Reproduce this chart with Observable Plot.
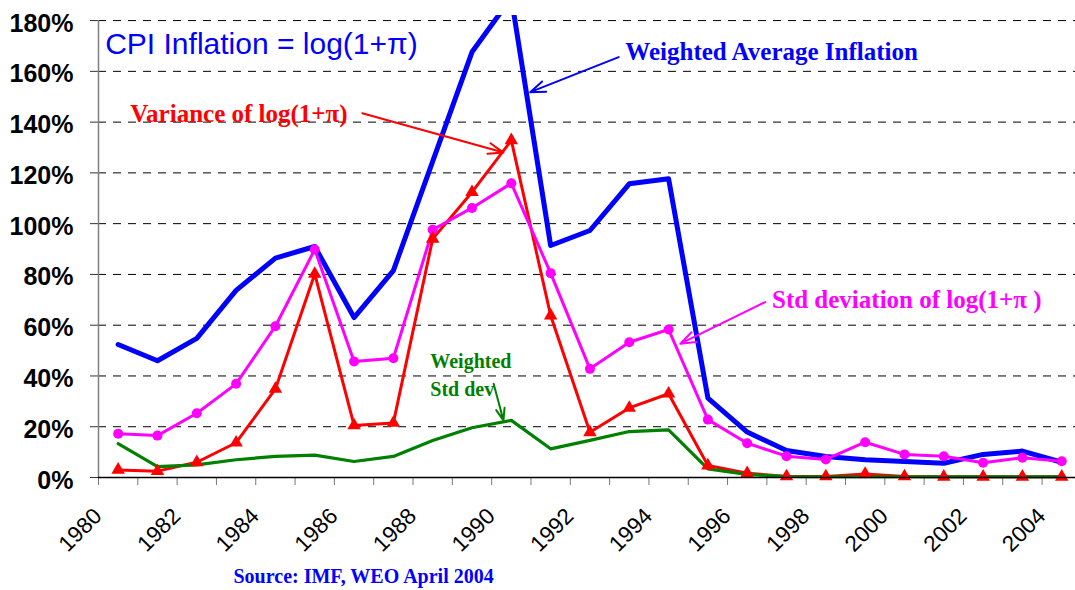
<!DOCTYPE html>
<html><head><meta charset="utf-8">
<script src="https://cdn.jsdelivr.net/npm/d3@7"></script>
<script src="https://cdn.jsdelivr.net/npm/@observablehq/plot@0.6"></script>
<style>
html,body{margin:0;padding:0;background:#fff;}
#chart svg{display:block;}
</style></head><body><div id="chart"></div>
<script>
const years = [1980,1981,1982,1983,1984,1985,1986,1987,1988,1989,1990,1991,1992,1993,1994,1995,1996,1997,1998,1999,2000,2001,2002,2003,2004];
const weightedAverage = [52.4,46.0,54.8,73.7,86.4,91.0,63.0,81.5,124.5,167.6,189.0,91.4,97.3,115.7,117.7,31.3,17.9,10.6,8.3,7.0,6.3,5.6,9.1,10.4,6.0];
const stdDeviation = [17.2,16.5,25.3,36.9,59.6,89.8,45.7,47.0,97.6,106.2,115.9,80.5,42.8,53.3,58.3,22.8,13.5,8.4,7.1,13.9,9.1,8.4,5.8,7.8,6.4];
const variance = [3.0,2.5,6.0,13.7,34.9,80.2,20.5,21.5,94.0,112.4,132.8,63.8,17.8,27.4,33.0,4.7,1.7,0.4,0.4,1.4,0.4,0.3,0.3,0.3,0.3];
const weightedStd = [13.3,4.3,5.0,7.0,8.3,8.8,6.3,8.3,14.6,19.6,22.5,11.3,14.6,18.1,18.8,3.4,1.2,0.4,0.3,0.3,0.3,0.3,0.3,0.3,0.3];
const yTicks = [0,20,40,60,80,100,120,140,160,180];
const xLabelYears = [1980,1982,1984,1986,1988,1990,1992,1994,1996,1998,2000,2002,2004];

const labels = [
  {x: 1992.90, y: 164.3, text: "Weighted Average Inflation", color: "#0000ff", size: 25},
  {x: 1980.31, y: 140.0, text: "Variance of log(1+π)", color: "#ff0000", size: 25},
  {x: 1996.63, y: 66.6, text: "Std deviation of log(1+π )", color: "#ff00ff", size: 25},
  {x: 1987.94, y: 32.3, text: "Weighted\nStd dev", color: "#008000", size: 20}
];
const arrows = [
  {x1: 1992.73, y1: 165.6, x2: 1990.48, y2: 151.8, color: "#0000ff"},
  {x1: 1986.21, y1: 143.5, x2: 1989.80, y2: 128.0, color: "#ff0000"},
  {x1: 1996.46, y1: 69.1, x2: 1994.30, y2: 52.7, color: "#ff00ff"},
  {x1: 1989.55, y1: 36.9, x2: 1989.80, y2: 22.5, color: "#008000"}
];

const rows = (vals) => years.map((yr, i) => ({year: yr, value: vals[i]}));
const blueRows = rows(weightedAverage);
const magRows = rows(stdDeviation);
const redRows = rows(variance);
const greenRows = rows(weightedStd);
const boundaries = years.map(y => y - 0.5);

const serif = "'Liberation Serif', 'Times New Roman', serif";

const chart = Plot.plot({
  width: 1075, height: 590,
  marginLeft: 98, marginRight: 0, marginTop: 15, marginBottom: 113,
  x: {type: "linear", domain: [1979.5, 2004.35]},
  y: {domain: [0, 182]},
  style: {fontFamily: "'Liberation Sans', Arial, sans-serif", background: "#fff", color: "#000"},
  marks: [
    Plot.ruleY(yTicks.filter(d => d > 0), {stroke: "#000", strokeDasharray: "8,7", strokeWidth: 1}),
    Plot.axisY({ticks: yTicks, tickSize: 8, tickFormat: () => "", stroke: "#333"}),
    Plot.text(yTicks, {y: d => d, text: d => d + "%", frameAnchor: "left", textAnchor: "end", dx: -25, dy: 3, fontSize: 25, fontWeight: "bold", fill: "#000"}),
    Plot.axisX({ticks: boundaries, tickSize: 8, tickFormat: () => "", stroke: "#777"}),
    Plot.text(xLabelYears, {x: d => d, text: d => String(d), frameAnchor: "bottom", dx: -15, dy: 40, rotate: -45, textAnchor: "end", lineAnchor: "bottom", fontSize: 22.5, fill: "#000"}),
    Plot.ruleX([1979.5], {y1: 0, y2: 180, stroke: "#808080", strokeWidth: 1.5}),
    Plot.line(blueRows, {x: "year", y: "value", stroke: "#0000ff", strokeWidth: 5, clip: true}),
    Plot.line(redRows, {x: "year", y: "value", stroke: "#ff0000", strokeWidth: 3}),
    Plot.line(greenRows, {x: "year", y: "value", stroke: "#008000", strokeWidth: 3.2}),
    Plot.line(magRows, {x: "year", y: "value", stroke: "#ff00ff", strokeWidth: 3}),
    Plot.dot(magRows, {x: "year", y: "value", r: 5, fill: "#ff00ff", stroke: "none"}),
    Plot.dot(redRows, {x: "year", y: "value", r: 5, symbol: "triangle", fill: "#ff0000", stroke: "none"}),
    Plot.ruleY([0], {stroke: "#000", strokeWidth: 1.5}),
    Plot.arrow(arrows, {x1: "x1", y1: "y1", x2: "x2", y2: "y2", stroke: d => d.color, strokeWidth: 2, headLength: 12, headAngle: 40}),
    Plot.text(labels, {x: "x", y: "y", text: "text", fill: d => d.color, fontSize: d => d.size, fontFamily: serif, fontWeight: "bold", textAnchor: "start", lineAnchor: "bottom", lineHeight: 1.4}),
    Plot.text(["CPI Inflation = log(1+π)"], {x: () => 1979.67, y: () => 167.0, text: d => d, fill: "#0000ff", fontSize: 30, textAnchor: "start", lineAnchor: "bottom"}),
    Plot.text(["Source: IMF, WEO April 2004"], {text: d => d, frameAnchor: "bottom-left", dx: 135, dy: 105, fill: "#0000ff", fontSize: 20, fontFamily: serif, fontWeight: "bold", textAnchor: "start", lineAnchor: "bottom"})
  ]
});
document.getElementById("chart").appendChild(chart);
</script></body></html>
